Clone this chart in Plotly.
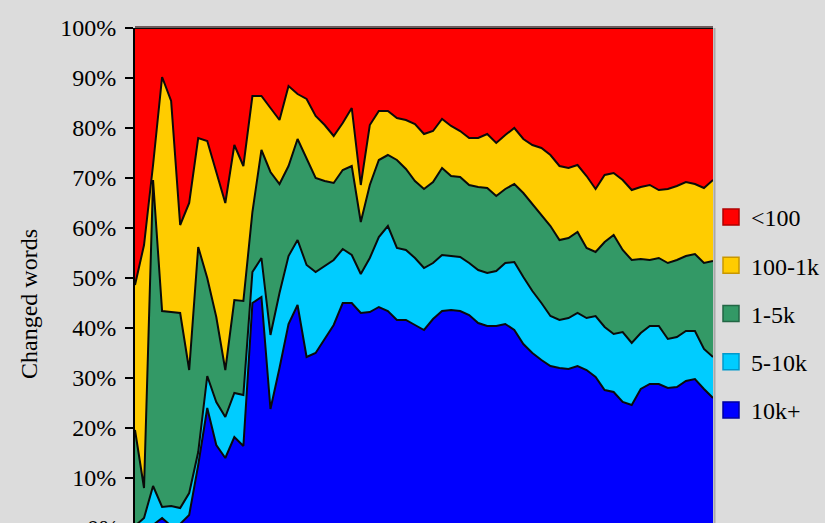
import plotly.graph_objects as go

# period index (monthly snapshots)
periods = list(range(65))

series_names = ["10k+", "5-10k", "1-5k", "100-1k", "<100"]

words_10k_plus = [0, 0, 0.6, 2.0, 0.4, 0.8, 2.6, 12.6, 24.0, 16.6, 14.0, 18.2, 16.4, 45.0, 46.2, 23.8,
                  32.0, 40.8, 44.6, 34.2, 35.0, 37.8, 40.6, 45.0, 45.0, 43.0, 43.2, 44.2, 43.4, 41.6, 41.6,
                  40.6, 39.6, 41.8, 43.4, 43.6, 43.4, 42.6, 41.0, 40.4, 40.4, 40.8, 39.6, 36.8, 35.0, 33.6,
                  32.4, 32.0, 31.8, 32.4, 31.6, 30.2, 27.6, 27.2, 25.2, 24.6, 27.8, 28.8, 28.8, 28.0, 28.2,
                  29.4, 29.8, 27.8, 26.0]
words_5k_10k = [0.4, 2.0, 7.8, 2.2, 4.0, 3.2, 4.4, 2.6, 6.4, 8.6, 8.2, 8.8, 10.2, 6.2, 7.8, 14.8,
                15.0, 13.6, 13.0, 18.4, 16.2, 14.6, 13.0, 10.8, 9.6, 7.8, 10.8, 14.0, 17.0, 14.4, 14.0,
                13.4, 12.4, 11.2, 11.2, 10.8, 10.8, 10.4, 10.6, 10.6, 11.0, 12.2, 13.6, 13.4, 12.4, 11.4,
                10.0, 9.6, 10.2, 10.6, 10.4, 12.2, 12.6, 11.6, 14.0, 12.4, 11.2, 11.6, 11.6, 9.8, 10.0,
                10.0, 9.6, 8.0, 8.2]
words_1k_5k = [19.2, 6.0, 61.2, 39.2, 38.8, 39.0, 24.6, 41.0, 19.6, 17.0, 9.4, 18.6, 18.8, 12.0, 21.6, 32.6,
               21.8, 18.0, 20.2, 21.4, 18.8, 17.0, 15.4, 15.8, 17.8, 10.4, 14.6, 15.4, 14.2, 17.6, 16.2,
               15.4, 15.8, 16.2, 17.4, 16.0, 16.0, 15.6, 16.6, 17.0, 15.0, 14.8, 15.6, 16.8, 17.4, 17.4,
               18.0, 16.0, 16.0, 16.2, 14.0, 12.8, 17.0, 19.8, 16.4, 16.6, 14.8, 13.2, 13.6, 15.2, 15.4,
               15.0, 15.4, 17.2, 19.2]
words_100_1k = [29.0, 48.6, 3.0, 46.8, 42.2, 17.6, 33.4, 21.8, 27.4, 28.8, 33.4, 31.0, 27.0, 23.2, 10.8, 12.8,
                12.8, 16.0, 9.0, 11.8, 12.4, 11.2, 9.4, 9.4, 11.6, 7.4, 12.0, 9.8, 8.8, 8.4, 9.8,
                11.4, 11.0, 10.2, 9.8, 10.0, 9.2, 9.4, 9.8, 10.8, 10.6, 10.8, 11.2, 10.8, 11.8, 13.6,
                14.2, 14.8, 14.0, 13.4, 14.4, 12.6, 13.4, 12.4, 14.0, 14.0, 14.4, 15.0, 13.6, 14.8, 14.8,
                14.8, 14.0, 15.0, 16.2]
words_under_100 = [51.4, 43.4, 27.4, 9.8, 14.6, 39.4, 35.0, 22.0, 22.6, 29.0, 35.0, 23.4, 27.6, 13.6, 13.6, 16.0,
                   18.4, 11.6, 13.2, 14.2, 17.6, 19.4, 21.6, 19.0, 16.0, 31.4, 19.4, 16.6, 16.6, 18.0, 18.4,
                   19.2, 21.2, 20.6, 18.2, 19.6, 20.6, 22.0, 22.0, 21.2, 23.0, 21.4, 20.0, 22.2, 23.4, 24.0,
                   25.4, 27.6, 28.0, 27.4, 29.6, 32.2, 29.4, 29.0, 30.4, 32.4, 31.8, 31.4, 32.4, 32.2, 31.6,
                   30.8, 31.2, 32.0, 30.4]

y_ticks = list(range(0, 101, 10))

series_values = [words_10k_plus, words_5k_10k, words_1k_5k, words_100_1k, words_under_100]
fill_colors = ["#0000ff", "#00ccff", "#339966", "#ffcc00", "#ff0000"]
edge_colors = ["#0000a0", "#0099cc", "#226644", "#c89600", "#b00000"]

FONT = "Liberation Serif, Times New Roman, serif"

fig = go.Figure()
for name, vals, fc in zip(series_names, series_values, fill_colors):
    fig.add_trace(go.Scatter(
        x=periods, y=vals, name=name, stackgroup="one", mode="lines",
        line=dict(color="#0a0a0a", width=2, shape="linear"),
        fillcolor=fc, showlegend=False, hoverinfo="skip"))

# legend entries (top to bottom)
for name, fc, ec in reversed(list(zip(series_names, fill_colors, edge_colors))):
    fig.add_trace(go.Scatter(
        x=[None], y=[None], name=name, mode="markers", legendgroup=name,
        marker=dict(symbol="square", size=16, color=fc, line=dict(color=ec, width=1.5)),
        showlegend=True))

W, H = 825, 523
ML, MR, MT, MB = 135, 112, 28, 0
pw = W - ML - MR
ph = H - MT - MB

fig.update_layout(
    width=W, height=H,
    margin=dict(l=ML, r=MR, t=MT, b=MB, pad=0, autoexpand=False),
    paper_bgcolor="#dcdcdc", plot_bgcolor="#dcdcdc",
    font=dict(family=FONT, size=24, color="black"),
    showlegend=True,
    legend=dict(x=(711 - ML) / pw, xanchor="left", y=(H - 195) / ph, yanchor="top",
                traceorder="grouped", tracegroupgap=14, itemwidth=30,
                bgcolor="rgba(0,0,0,0)", font=dict(family=FONT, size=24, color="black")),
    xaxis=dict(visible=False, range=[0, 64], showgrid=False, zeroline=False),
    yaxis=dict(range=[1, 100], tickvals=y_ticks, ticktext=[f"{v}%" for v in y_ticks],
               showgrid=False, zeroline=False, showline=True, linecolor="black", linewidth=2,
               ticks="outside", ticklen=8, tickwidth=2, tickcolor="black",
               ticklabelstandoff=4,
               tickfont=dict(family=FONT, size=24, color="black")),
)

# top frame line and right frame line
fig.add_shape(type="line", xref="paper", yref="paper", x0=0, x1=1, y0=1 + 1 / ph, y1=1 + 1 / ph,
              line=dict(color="#6e5a5a", width=2), layer="above")
fig.add_shape(type="line", xref="paper", yref="paper", x0=1 + 1.5 / pw, x1=1 + 1.5 / pw, y0=0, y1=1,
              line=dict(color="#a8a8a8", width=2), layer="above")

# y-axis title
fig.add_annotation(text="Changed words", xref="paper", yref="paper",
                   x=(29 - ML) / pw, xanchor="center", y=(H - 304) / ph, yanchor="middle",
                   textangle=-90, showarrow=False,
                   font=dict(family=FONT, size=24, color="black"))
# the 0% label, cut by the bottom of the picture
fig.add_annotation(text="0%", xref="paper", yref="paper", x=-14 / pw, xanchor="right",
                   y=(H - 528) / ph, yanchor="middle", showarrow=False,
                   font=dict(family=FONT, size=24, color="black"))

fig.write_html("out.html")
